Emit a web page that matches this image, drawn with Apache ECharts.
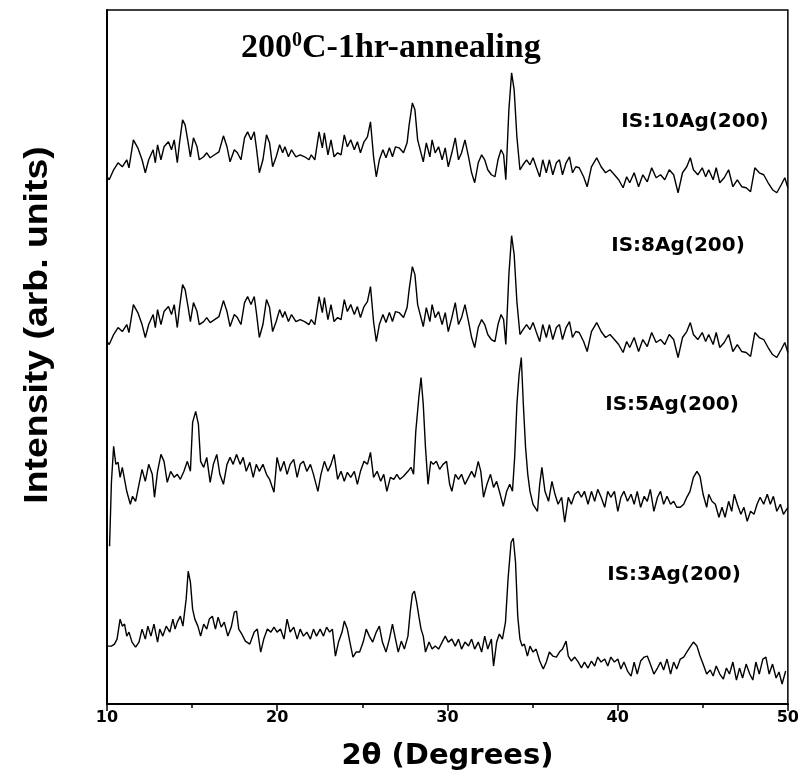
<!DOCTYPE html>
<html>
<head>
<meta charset="utf-8">
<script src="https://cdn.jsdelivr.net/npm/echarts@6/dist/echarts.min.js"></script>
<style>html,body{margin:0;padding:0;background:#fff}#c{width:802px;height:776px}</style>
</head>
<body>
<div id="c"></div>
<script>
// 2theta (degrees) / intensity (arb. units, stacked offsets as plotted)
const is10Ag = [[10.00,528],[10.13,525],[10.39,535],[10.65,542],[10.90,538],[11.16,545],[11.29,537],[11.55,565],[11.81,557],[12.06,545],[12.25,532],[12.45,545],[12.71,555],[12.84,542],[12.97,560],[13.17,545],[13.35,558],[13.61,563],[13.79,555],[13.95,565],[14.13,542],[14.26,562],[14.44,585],[14.59,580],[14.77,562],[14.90,548],[15.08,567],[15.29,558],[15.42,545],[15.68,548],[15.86,552],[16.06,547],[16.32,550],[16.58,553],[16.84,569],[17.05,558],[17.23,543],[17.48,555],[17.66,552],[17.87,545],[18.08,567],[18.26,573],[18.46,565],[18.65,573],[18.77,558],[18.95,532],[19.16,545],[19.37,570],[19.55,562],[19.73,538],[19.94,548],[20.14,560],[20.32,552],[20.45,558],[20.66,548],[20.84,555],[21.10,548],[21.35,550],[21.61,548],[21.87,545],[22.00,550],[22.21,545],[22.46,573],[22.65,557],[22.77,572],[22.98,550],[23.16,565],[23.34,548],[23.55,552],[23.75,550],[23.94,570],[24.12,558],[24.32,565],[24.53,555],[24.71,563],[24.89,552],[25.10,563],[25.30,568],[25.48,583],[25.66,548],[25.82,528],[26.00,545],[26.21,555],[26.39,547],[26.59,557],[26.77,548],[26.95,558],[27.16,557],[27.42,552],[27.63,562],[27.75,580],[27.94,602],[28.09,595],[28.25,565],[28.40,555],[28.58,543],[28.76,562],[28.97,548],[29.10,565],[29.28,552],[29.48,558],[29.69,545],[29.87,557],[30.05,538],[30.26,552],[30.46,567],[30.65,545],[30.83,552],[31.03,565],[31.24,548],[31.42,532],[31.60,522],[31.81,542],[32.01,550],[32.19,545],[32.37,535],[32.58,530],[32.79,528],[32.97,545],[33.15,555],[33.30,550],[33.43,525],[33.61,595],[33.77,632],[33.92,615],[34.08,568],[34.26,535],[34.44,540],[34.65,545],[34.85,540],[35.03,547],[35.21,538],[35.42,528],[35.60,545],[35.81,532],[35.99,545],[36.19,530],[36.40,542],[36.58,545],[36.76,530],[36.97,542],[37.17,548],[37.35,532],[37.54,538],[37.74,537],[38.00,528],[38.21,518],[38.46,538],[38.77,547],[39.03,538],[39.29,532],[39.55,535],[39.81,530],[40.06,525],[40.32,517],[40.53,528],[40.71,522],[40.97,532],[41.23,518],[41.48,530],[41.74,523],[42.00,537],[42.26,527],[42.52,530],[42.77,525],[43.03,535],[43.29,530],[43.55,512],[43.81,532],[44.06,538],[44.27,547],[44.45,535],[44.71,530],[44.97,537],[45.17,528],[45.35,535],[45.61,525],[45.79,537],[46.00,522],[46.26,527],[46.52,535],[46.77,518],[47.03,525],[47.29,518],[47.55,517],[47.81,513],[48.06,537],[48.32,532],[48.58,530],[48.84,522],[49.10,515],[49.35,512],[49.61,520],[49.82,527],[50.00,517]];

const is8Ag = [[10.00,363],[10.13,360],[10.39,370],[10.65,377],[10.90,373],[11.16,380],[11.29,372],[11.55,400],[11.81,392],[12.06,380],[12.25,367],[12.45,380],[12.71,390],[12.84,377],[12.97,395],[13.17,380],[13.35,393],[13.61,398],[13.79,390],[13.95,400],[14.13,377],[14.26,397],[14.44,420],[14.59,415],[14.77,397],[14.90,383],[15.08,402],[15.29,393],[15.42,380],[15.68,383],[15.86,387],[16.06,382],[16.32,385],[16.58,388],[16.84,404],[17.05,393],[17.23,378],[17.48,390],[17.66,387],[17.87,380],[18.08,402],[18.26,408],[18.46,400],[18.65,408],[18.77,393],[18.95,367],[19.16,380],[19.37,405],[19.55,397],[19.73,373],[19.94,383],[20.14,395],[20.32,387],[20.45,393],[20.66,383],[20.84,390],[21.10,383],[21.35,385],[21.61,383],[21.87,380],[22.00,385],[22.21,380],[22.46,408],[22.65,392],[22.77,407],[22.98,385],[23.16,400],[23.34,383],[23.55,387],[23.75,385],[23.94,405],[24.12,393],[24.32,400],[24.53,390],[24.71,398],[24.89,387],[25.10,398],[25.30,403],[25.48,418],[25.66,383],[25.82,363],[26.00,380],[26.21,390],[26.39,382],[26.59,392],[26.77,383],[26.95,393],[27.16,392],[27.42,387],[27.63,397],[27.75,415],[27.94,438],[28.09,430],[28.25,400],[28.40,390],[28.58,378],[28.76,397],[28.97,383],[29.10,400],[29.28,387],[29.48,393],[29.69,380],[29.87,392],[30.05,373],[30.26,387],[30.46,402],[30.65,380],[30.83,387],[31.03,400],[31.24,383],[31.42,367],[31.60,357],[31.81,377],[32.01,385],[32.19,380],[32.37,370],[32.58,365],[32.79,363],[32.97,380],[33.15,390],[33.30,385],[33.43,360],[33.61,430],[33.77,469],[33.92,450],[34.08,403],[34.26,370],[34.44,375],[34.65,380],[34.85,375],[35.03,382],[35.21,373],[35.42,363],[35.60,380],[35.81,367],[35.99,380],[36.19,365],[36.40,377],[36.58,380],[36.76,365],[36.97,377],[37.17,383],[37.35,367],[37.54,373],[37.74,372],[38.00,363],[38.21,353],[38.46,373],[38.77,382],[39.03,373],[39.29,367],[39.55,370],[39.81,365],[40.06,360],[40.32,352],[40.53,363],[40.71,357],[40.97,367],[41.23,353],[41.48,365],[41.74,358],[42.00,372],[42.26,362],[42.52,365],[42.77,360],[43.03,370],[43.29,365],[43.55,347],[43.81,367],[44.06,373],[44.27,382],[44.45,370],[44.71,365],[44.97,372],[45.17,363],[45.35,370],[45.61,360],[45.79,372],[46.00,357],[46.26,362],[46.52,370],[46.77,353],[47.03,360],[47.29,353],[47.55,352],[47.81,348],[48.06,372],[48.32,367],[48.58,365],[48.84,357],[49.10,350],[49.35,347],[49.61,355],[49.82,362],[50.00,352]];

const is5Ag = [[10.15,158],[10.26,222],[10.39,258],[10.52,240],[10.65,242],[10.77,227],[10.90,237],[11.03,225],[11.16,213],[11.37,200],[11.50,208],[11.68,203],[11.88,220],[12.06,235],[12.25,223],[12.45,240],[12.66,230],[12.79,207],[12.97,233],[13.17,250],[13.35,243],[13.54,222],[13.74,233],[13.95,227],[14.13,230],[14.31,225],[14.52,233],[14.72,243],[14.90,233],[15.03,282],[15.21,293],[15.37,280],[15.50,243],[15.68,237],[15.86,247],[16.06,222],[16.25,240],[16.45,250],[16.63,230],[16.84,220],[17.05,240],[17.23,247],[17.41,240],[17.61,250],[17.82,240],[18.00,247],[18.18,233],[18.39,242],[18.59,227],[18.77,240],[18.95,233],[19.16,240],[19.37,230],[19.55,225],[19.81,212],[19.99,247],[20.19,233],[20.40,243],[20.58,230],[20.76,240],[20.97,245],[21.17,227],[21.35,240],[21.54,243],[21.74,233],[21.95,240],[22.13,230],[22.39,213],[22.57,230],[22.77,243],[22.98,233],[23.16,240],[23.34,250],[23.55,225],[23.75,233],[23.94,223],[24.12,232],[24.32,227],[24.53,233],[24.71,220],[24.89,233],[25.10,243],[25.30,240],[25.48,252],[25.66,227],[25.87,233],[26.08,223],[26.26,230],[26.44,213],[26.65,227],[26.85,225],[27.03,230],[27.21,225],[27.42,228],[27.68,233],[27.86,237],[28.01,230],[28.14,273],[28.32,307],[28.45,327],[28.58,300],[28.71,257],[28.86,220],[29.02,243],[29.17,240],[29.35,243],[29.54,235],[29.74,240],[29.95,243],[30.13,220],[30.26,213],[30.46,230],[30.65,225],[30.83,230],[31.03,220],[31.24,227],[31.42,233],[31.60,227],[31.81,243],[31.96,233],[32.12,207],[32.32,220],[32.53,230],[32.71,217],[32.89,223],[33.10,210],[33.28,198],[33.48,213],[33.66,220],[33.82,213],[33.95,247],[34.08,300],[34.21,330],[34.34,347],[34.46,300],[34.59,257],[34.72,230],[34.85,213],[35.03,200],[35.29,193],[35.42,220],[35.55,237],[35.73,213],[35.94,203],[36.14,223],[36.32,210],[36.50,200],[36.71,207],[36.89,182],[37.10,207],[37.28,200],[37.48,210],[37.69,213],[37.87,207],[38.05,213],[38.26,200],[38.46,213],[38.65,203],[38.83,215],[39.03,207],[39.24,197],[39.42,213],[39.60,207],[39.81,213],[40.01,193],[40.19,207],[40.37,213],[40.58,203],[40.79,210],[40.97,200],[41.15,213],[41.35,197],[41.56,208],[41.74,203],[41.92,215],[42.13,193],[42.34,207],[42.52,213],[42.70,200],[42.90,208],[43.11,200],[43.29,203],[43.47,197],[43.68,197],[43.88,200],[44.06,207],[44.25,213],[44.45,227],[44.66,233],[44.84,228],[45.02,210],[45.23,197],[45.35,210],[45.54,203],[45.74,200],[45.95,187],[46.13,197],[46.31,187],[46.52,203],[46.70,193],[46.85,210],[47.03,200],[47.24,190],[47.42,197],[47.61,183],[47.81,193],[48.01,190],[48.19,200],[48.37,207],[48.58,200],[48.79,210],[48.97,200],[49.15,208],[49.35,193],[49.56,200],[49.74,190],[50.00,197]];

const is3Ag = [[10.00,58],[10.26,58],[10.44,60],[10.59,65],[10.77,85],[10.90,78],[11.03,80],[11.16,68],[11.29,72],[11.47,62],[11.68,57],[11.88,62],[12.06,75],[12.25,65],[12.40,78],[12.58,68],[12.76,80],[12.97,62],[13.10,75],[13.28,68],[13.48,78],[13.69,72],[13.87,85],[14.00,75],[14.13,82],[14.31,88],[14.46,78],[14.65,105],[14.77,133],[14.90,122],[15.03,95],[15.16,85],[15.34,78],[15.50,68],[15.68,80],[15.86,75],[16.01,85],[16.19,88],[16.37,75],[16.53,87],[16.71,77],[16.89,82],[17.10,68],[17.30,77],[17.48,92],[17.61,93],[17.74,75],[17.92,70],[18.13,63],[18.39,60],[18.65,72],[18.83,75],[19.03,52],[19.21,65],[19.42,75],[19.63,72],[19.81,77],[19.99,72],[20.19,75],[20.40,65],[20.58,85],[20.76,72],[20.97,77],[21.17,65],[21.35,75],[21.54,68],[21.74,72],[21.95,65],[22.13,75],[22.31,68],[22.52,75],[22.72,68],[22.90,77],[23.08,72],[23.24,75],[23.42,48],[23.60,62],[23.81,72],[23.94,83],[24.12,75],[24.27,62],[24.45,47],[24.63,52],[24.84,52],[25.05,62],[25.23,75],[25.41,68],[25.61,62],[25.82,72],[26.00,78],[26.18,62],[26.39,52],[26.59,65],[26.77,80],[26.95,65],[27.11,52],[27.29,63],[27.47,55],[27.68,68],[27.81,92],[27.94,110],[28.06,113],[28.19,102],[28.32,88],[28.45,75],[28.58,68],[28.71,52],[28.92,62],[29.10,55],[29.28,58],[29.48,55],[29.69,62],[29.87,68],[30.05,62],[30.26,65],[30.46,58],[30.65,65],[30.83,55],[31.03,62],[31.24,58],[31.42,65],[31.60,55],[31.81,62],[32.01,52],[32.19,68],[32.37,55],[32.58,65],[32.71,38],[32.89,62],[33.05,70],[33.23,65],[33.41,82],[33.56,125],[33.74,162],[33.87,166],[34.00,142],[34.13,88],[34.26,65],[34.39,58],[34.52,60],[34.70,48],[34.85,58],[35.03,52],[35.21,55],[35.42,43],[35.63,35],[35.81,42],[35.99,52],[36.19,48],[36.40,47],[36.58,52],[36.76,55],[36.97,63],[37.10,48],[37.28,43],[37.48,47],[37.69,42],[37.87,36],[38.05,42],[38.26,36],[38.46,43],[38.65,38],[38.83,47],[39.03,42],[39.24,45],[39.42,38],[39.60,47],[39.81,42],[40.01,45],[40.19,35],[40.37,42],[40.58,33],[40.79,28],[40.97,42],[41.15,30],[41.35,43],[41.56,47],[41.74,48],[41.92,40],[42.13,30],[42.34,36],[42.52,42],[42.70,34],[42.90,45],[43.11,30],[43.29,42],[43.47,35],[43.68,45],[43.88,47],[44.06,52],[44.25,57],[44.45,62],[44.66,58],[44.84,48],[45.02,40],[45.23,30],[45.44,34],[45.61,28],[45.79,38],[46.00,30],[46.21,25],[46.39,36],[46.57,30],[46.77,42],[46.98,24],[47.16,36],[47.34,26],[47.55,40],[47.76,30],[47.94,24],[48.12,42],[48.32,30],[48.53,45],[48.71,47],[48.90,30],[49.10,40],[49.31,26],[49.48,32],[49.66,20],[49.87,33]];

const seriesNames = ['IS:10Ag(200)', 'IS:8Ag(200)', 'IS:5Ag(200)', 'IS:3Ag(200)'];
const seriesData = [is10Ag, is8Ag, is5Ag, is3Ag];
const xTicks = [10, 20, 30, 40, 50];

const chart = echarts.init(document.getElementById('c'), null, {renderer: 'canvas'});
const lblFont = {fontFamily: 'DejaVu Sans', fontWeight: 'bold', fontSize: 20, fill: '#000'};
const labelPos = [[695, 122], [678, 246], [672, 405], [674, 575]];

const option = {
  animation: false,
  backgroundColor: '#fff',
  title: {
    text: '{a|200}{b|0}{a|C-1hr-annealing}',
    left: 236, top: 26,
    textStyle: {
      rich: {
        a: {fontFamily: 'Liberation Serif', fontWeight: 'bold', fontSize: 34, color: '#000'},
        b: {fontFamily: 'Liberation Serif', fontWeight: 'bold', fontSize: 20, color: '#000', verticalAlign: 'top'}
      }
    }
  },
  grid: {left: 107, right: 7, top: 10, bottom: 71, show: true, borderColor: '#000', borderWidth: 1.5},
  xAxis: {
    type: 'value', min: 10, max: 50, interval: 10,
    axisLine: {lineStyle: {color: '#000', width: 2}},
    axisTick: {length: 7, lineStyle: {color: '#000', width: 1.5}},
    minorTick: {show: true, splitNumber: 2, length: 4, lineStyle: {color: '#000', width: 1.5}},
    splitLine: {show: false},
    axisLabel: {color: '#000', fontFamily: 'DejaVu Sans', fontWeight: 'bold', fontSize: 16, margin: 6,
      formatter: v => xTicks.includes(v) ? String(v) : ''},
    name: '2θ (Degrees)', nameLocation: 'middle', nameGap: 38,
    nameTextStyle: {color: '#000', fontFamily: 'DejaVu Sans', fontWeight: 'bold', fontSize: 29}
  },
  yAxis: {
    type: 'value', min: 0, max: 695,
    axisLine: {show: true, lineStyle: {color: '#000', width: 2}},
    axisTick: {show: false}, axisLabel: {show: false}, splitLine: {show: false}
  },
  graphic: [
    {type: 'text', x: 38, y: 325, rotation: Math.PI / 2, scaleX: 1.1, scaleY: 1.0, style: {
      text: 'Intensity (arb. units)', fontFamily: 'Liberation Sans', fontWeight: 'bold',
      fontSize: 34, fill: '#000', align: 'center', verticalAlign: 'middle'}}
  ].concat(seriesNames.map((n, i) => ({
    type: 'text', x: labelPos[i][0], y: labelPos[i][1],
    style: Object.assign({text: n, align: 'center', verticalAlign: 'middle'}, lblFont)
  }))),
  series: seriesData.map((d, i) => ({
    type: 'line', name: seriesNames[i], data: d, showSymbol: false, symbol: 'none',
    lineStyle: {color: '#000', width: 1.4}
  }))
};
chart.setOption(option);
</script>
</body>
</html>
